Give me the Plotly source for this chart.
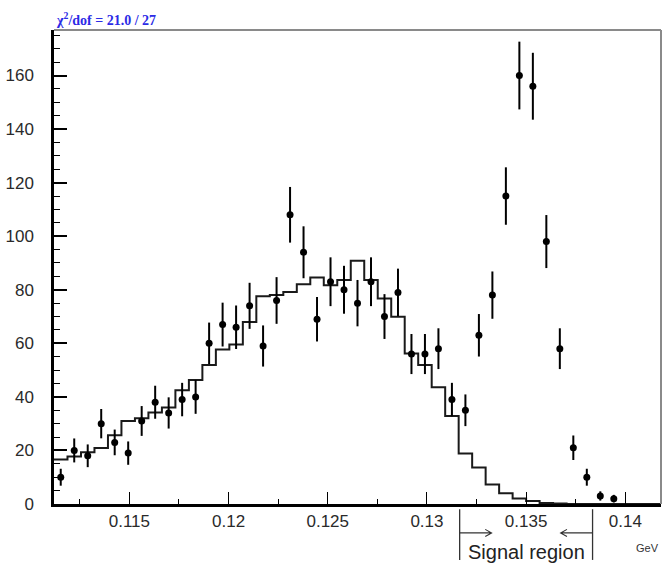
import numpy as np
import plotly.graph_objects as go

# Binning of the invariant-mass histogram (GeV)
bin_edges_lo = 0.1112
bin_width = 0.00068
n_bins = 45

# Bin centres of the measured points (GeV)
data_x = [
    0.11154, 0.11222, 0.11290, 0.11358, 0.11426, 0.11494, 0.11562, 0.11630,
    0.11698, 0.11766, 0.11834, 0.11902, 0.11970, 0.12038, 0.12106, 0.12174,
    0.12242, 0.12310, 0.12378, 0.12446, 0.12514, 0.12582, 0.12650, 0.12718,
    0.12786, 0.12854, 0.12922, 0.12990, 0.13058, 0.13126, 0.13194, 0.13262,
    0.13330, 0.13398, 0.13466, 0.13534, 0.13602, 0.13670, 0.13738, 0.13806,
    0.13874, 0.13942,
]
# Measured counts per bin
data_counts = [
    10, 20, 18, 30, 23, 19, 31, 38, 34, 39, 40, 60, 67, 66, 74, 59,
    76, 108, 94, 69, 83, 80, 75, 83, 70, 79, 56, 56, 58, 39, 35, 63,
    78, 115, 160, 156, 98, 58, 21, 10, 3, 2,
]
# Background expectation per bin (step histogram)
bkg_counts = [
    16.6, 17.7, 19.3, 20.9, 25.7, 31.0, 32.0, 34.2, 36.0, 42.5, 46.3, 51.9,
    57.7, 59.6, 68.0, 77.6, 78.0, 79.2, 82.1, 84.6, 81.7, 83.6, 90.8, 83.6,
    76.7, 69.9, 56.2, 51.9, 43.6, 32.9, 18.9, 13.6, 7.3, 4.0, 2.1, 1.1,
    0.4, 0.2, 0.0, 0.0, 0.0, 0.0, 0.0, 0.0, 0.0,
]

x_tick_vals = [0.115, 0.12, 0.125, 0.13, 0.135, 0.14]
x_tick_text = ["0.115", "0.12", "0.125", "0.13", "0.135", "0.14"]
y_tick_vals = [0, 20, 40, 60, 80, 100, 120, 140, 160]

signal_lo, signal_hi = 0.13165, 0.13835
fit_label = "χ<sup>2</sup>/dof = 21.0 / 27"

x_range = [bin_edges_lo, bin_edges_lo + n_bins * bin_width]
y_range = [0, 177]

# Step histogram: left edges plus the final right edge
edges = [bin_edges_lo + i * bin_width for i in range(n_bins + 1)]
step_y = list(bkg_counts) + [bkg_counts[-1]]

fig = go.Figure()

fig.add_trace(go.Scatter(
    x=edges, y=step_y, mode="lines", line_shape="hv",
    line=dict(color="#1a1a1a", width=2), showlegend=False, hoverinfo="skip",
))

fig.add_trace(go.Scatter(
    x=data_x, y=data_counts, mode="markers",
    marker=dict(color="black", size=7, symbol="circle"),
    error_y=dict(type="data", array=np.sqrt(data_counts), visible=True,
                 color="black", thickness=2, width=0),
    showlegend=False,
))

axis_font = dict(family="Liberation Sans, Arial, sans-serif", size=17, color="#2a2a2a")

fig.update_xaxes(
    range=x_range, showgrid=False, zeroline=False, automargin=False,
    showline=True, linecolor="black", linewidth=2.5,
    tickmode="array", tickvals=x_tick_vals, ticktext=x_tick_text,
    ticks="inside", ticklen=12, tickwidth=1, tickcolor="black",
    tickfont=axis_font, ticklabelstandoff=0,
    minor=dict(dtick=0.0025, tick0=0.1125, ticks="inside", ticklen=5,
               tickwidth=1, tickcolor="black", showgrid=False),
)
fig.update_yaxes(
    range=y_range, showgrid=False, zeroline=False, automargin=False,
    showline=True, linecolor="black", linewidth=2.5,
    tickmode="array", tickvals=y_tick_vals,
    ticks="inside", ticklen=13, tickwidth=1.5, tickcolor="black",
    tickfont=axis_font, ticklabelstandoff=14,
    minor=dict(dtick=5, tick0=0, ticks="inside", ticklen=6,
               tickwidth=1, tickcolor="black", showgrid=False),
)

# Arrow geometry for the signal window (head length in GeV, half-spread in paper units)
arrow_y = -0.061
head_dx = 0.00032
head_dy = 0.0075
left_tip = 0.13326
right_tip = 0.13674


def arrow_path(tail, tip):
    back = tip - head_dx if tip > tail else tip + head_dx
    return (f"M {tail},{arrow_y} L {tip},{arrow_y} "
            f"M {back},{arrow_y + head_dy} L {tip},{arrow_y} L {back},{arrow_y - head_dy}")


shapes = [
    # upper and right frame edges
    dict(type="line", xref="paper", yref="paper", x0=0, x1=1, y0=1, y1=1,
         line=dict(color="#8a8a8a", width=2)),
    dict(type="line", xref="paper", yref="paper", x0=1, x1=1, y0=0, y1=1,
         line=dict(color="#8a8a8a", width=2)),
    # signal window markers below the axis
    dict(type="line", xref="x", yref="paper", x0=signal_lo, x1=signal_lo,
         y0=-0.011, y1=-0.118, line=dict(color="#333", width=1.3)),
    dict(type="line", xref="x", yref="paper", x0=signal_hi, x1=signal_hi,
         y0=-0.011, y1=-0.118, line=dict(color="#333", width=1.3)),
    dict(type="path", xref="x", yref="paper", path=arrow_path(signal_lo, left_tip),
         line=dict(color="#333", width=1.1)),
    dict(type="path", xref="x", yref="paper", path=arrow_path(signal_hi, right_tip),
         line=dict(color="#333", width=1.1)),
]

annotations = [
    dict(text=fit_label, xref="paper", yref="paper", x=0, y=1,
         xanchor="left", yanchor="bottom", yshift=0, showarrow=False,
         font=dict(family="Liberation Serif, Times New Roman, serif",
                   size=14, color="#2b2be6", weight="bold")),
    dict(text="GeV", xref="paper", yref="paper", x=0.977, y=-0.093,
         xanchor="center", yanchor="middle", showarrow=False,
         font=dict(family="Liberation Sans, Arial, sans-serif", size=11, color="#333")),
    dict(text="Signal region", xref="x", yref="paper",
         x=(signal_lo + signal_hi) / 2, y=-0.102,
         xanchor="center", yanchor="middle", showarrow=False,
         font=dict(family="Liberation Sans, Arial, sans-serif", size=20, color="#222")),
]

fig.update_layout(
    width=663, height=566,
    margin=dict(l=54, r=2, t=30, b=62),
    paper_bgcolor="white", plot_bgcolor="white",
    shapes=shapes, annotations=annotations,
    showlegend=False,
)

fig.write_html("out.html")
